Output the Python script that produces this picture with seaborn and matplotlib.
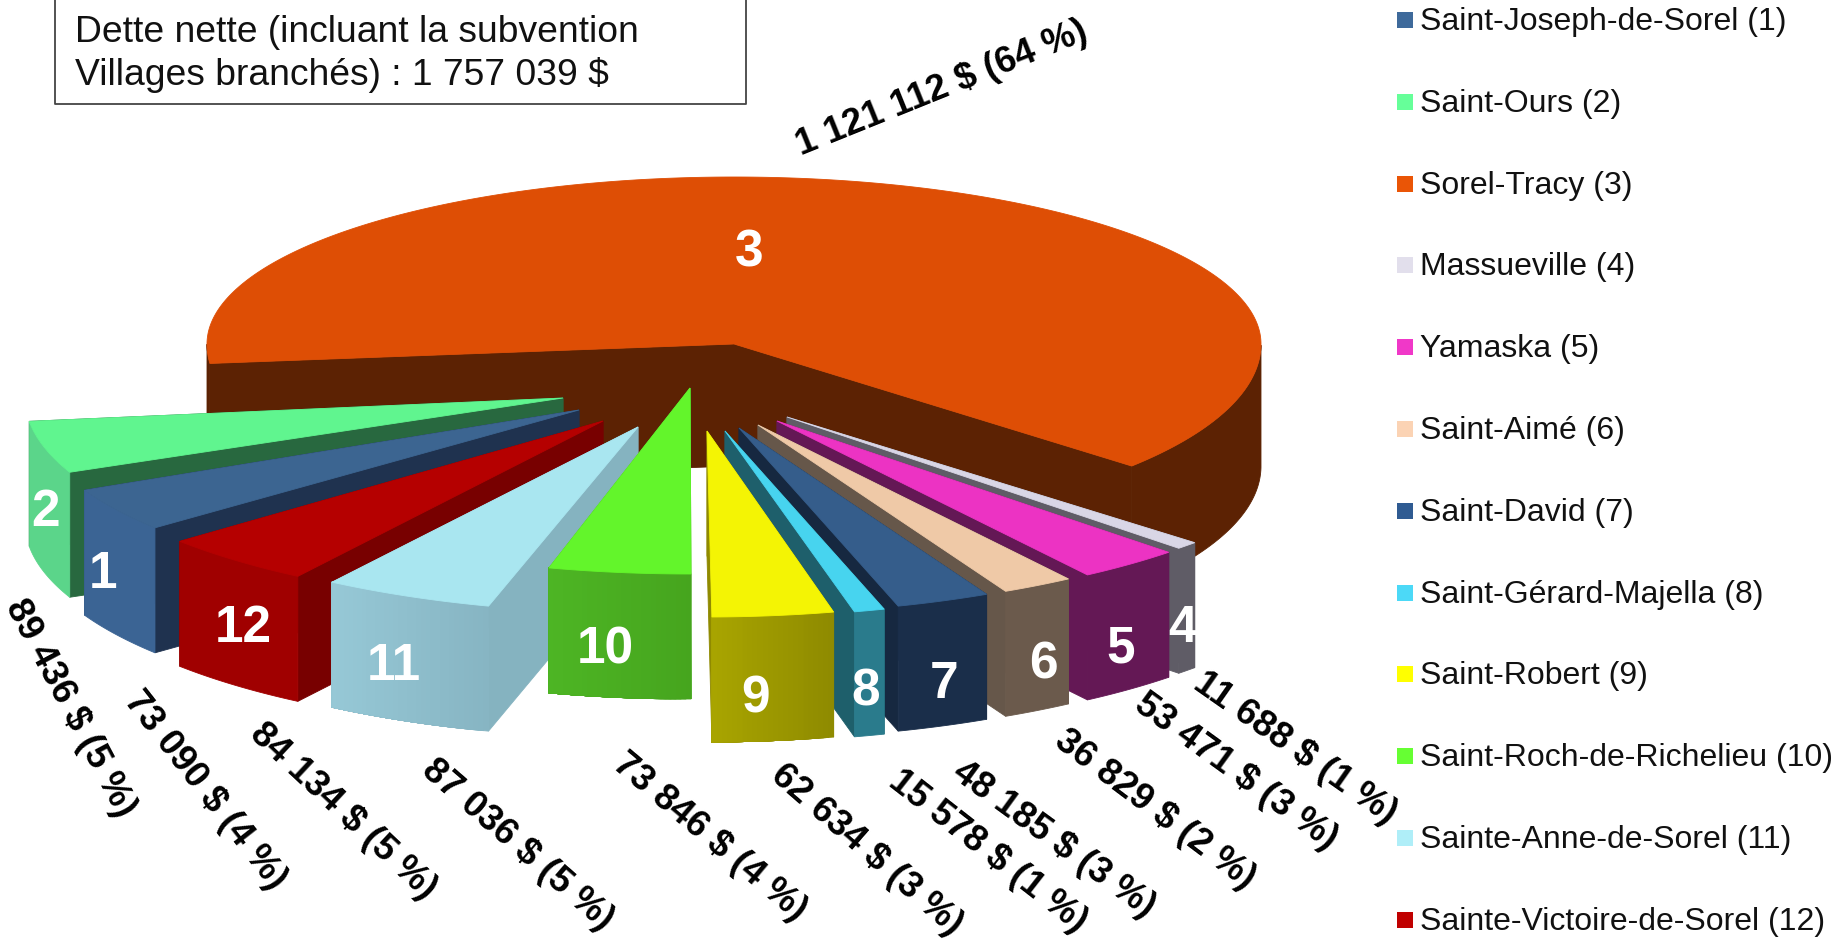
import numpy as np
import pandas as pd
import matplotlib.pyplot as plt
import seaborn as sns
from matplotlib.colors import to_rgb

noms = ['Saint-Joseph-de-Sorel (1)', 'Saint-Ours (2)', 'Sorel-Tracy (3)', 'Massueville (4)',
        'Yamaska (5)', 'Saint-Aimé (6)', 'Saint-David (7)', 'Saint-Gérard-Majella (8)',
        'Saint-Robert (9)', 'Saint-Roch-de-Richelieu (10)', 'Sainte-Anne-de-Sorel (11)',
        'Sainte-Victoire-de-Sorel (12)']
valeurs = [73090, 89436, 1121112, 11688, 53471, 36829, 48185, 15578, 62634, 73846, 87036, 84134]
pourcents = [4, 5, 64, 1, 3, 2, 3, 1, 3, 4, 5, 5]
titre = 'Dette nette (incluant la subvention\nVillages branchés) : 1 757 039 $'

# couleurs
coul_legende = ['#3E6A9B', '#66FF99', '#EA5506', '#E2DFEC', '#F038C8', '#FBD3B4',
                '#2F5B92', '#4CD9F7', '#FFFF00', '#66FF33', '#AFEEF8', '#C00000']
coul_dessus = ['#3C6591', '#60F58F', '#DE4E05', '#D9D6E6', '#EC33C3', '#EFC9A7',
               '#355D8B', '#47D4EF', '#F4F404', '#63F52B', '#A9E6F0', '#B50000']
coul_coupe = ['#1F324F', '#28683F', '#5C2203', '#5F5C66', '#641855', '#66574A',
              '#162840', '#1E5F6B', '#8F8A00', '#48AE20', '#85B3C0', '#780000']
mur_debut = ['#3B6494', '#5BD58A', '#5C2203', '#5F5C66', '#641855', '#6B5A4C',
             '#1A2E4A', '#2A7B8C', '#8F8B00', '#46A51E', '#87B5C3', '#A00000']
mur_fin = ['#3B6494', '#5BD58A', '#5C2203', '#5F5C66', '#641855', '#6B5A4C',
           '#1A2E4A', '#2A7B8C', '#A8A400', '#4DB524', '#96C8D6', '#A00000']

# mise en page (pixels)
centre = (734, 344)
angle_depart = -42.5
rayon_x = [548, 538, 527, 553, 553, 553, 553, 553, 553, 555, 555, 555]
corr_debut = [-1.2, -2, -1.2, 0, 0, 0, 0, 0, -0.3, -0.6, -1.2, -1.1]
corr_fin = [0, 0, 1.5, 0, 0, 0, 0, 0, -0.2, -0.3, -1.2, -0.2]
decal_x = [-155, -171, 0, 53, 43, 24, 5, -9, -27, -44, -96, -131]
decal_y = [66, 54, 0, 73, 77, 81, 84, 87, 87, 44, 83, 77]
ordre = [2, 1, 0, 11, 10, 9, 3, 4, 5, 6, 7, 8]
pos_num = [(103, 574), (45, 512), (749, 253), (1182, 629), (1121, 649), (1043, 665),
           (944, 685), (866, 692), (755, 699), (605, 650), (394, 666), (243, 629)]
pos_etiq = [(205, 790), (70, 708), (942, 88), (1295, 748), (1236, 772), (1155, 810),
            (1054, 840), (988, 851), (867, 850), (710, 837), (518, 845), (343, 811)]
rot_etiq = [-52, -62, 22, -35, -36, -37, -36, -38, -41, -40, -41, -43]

sns.set_theme(style='white')
plt.rcParams['font.family'] = ['Liberation Sans', 'DejaVu Sans']

fig, ax = plt.subplots(figsize=(18.35, 9.39), dpi=100)
fig.subplots_adjust(0, 0, 1, 1)
ax.set_xlim(0, 1835)
ax.set_ylim(939, 0)
sns.despine(ax=ax, left=True, bottom=True)
ax.set_xticks([])
ax.set_yticks([])

total = sum(valeurs)
etendues = np.array(valeurs) / total * 360
fins = angle_depart + sum(etendues[:3]) - np.cumsum(etendues)
debuts = fins + etendues


def poly(xs, ys, c):
    ax.fill(xs, ys, color=c, lw=0.6, zorder=2)


def part(i):
    grand = i == 2
    rx = rayon_x[i]
    h = 122 if grand else 125
    ax0 = centre[0] + decal_x[i]
    ay0 = centre[1] + decal_y[i]
    t = np.radians(np.linspace(debuts[i] + corr_debut[i], fins[i] + corr_fin[i],
                               max(int(etendues[i] * 2), 12)))
    ry = np.where(np.sin(t) > 0, 167, 186) if grand else 186
    xs = ax0 + rx * np.cos(t)
    ys = ay0 - ry * np.sin(t)

    # faces coupees, la plus lointaine d'abord
    faces = sorted([(xs[0], ys[0]), (xs[-1], ys[-1])], key=lambda p: p[1])
    for fx, fy in faces:
        poly([ax0, fx, fx, ax0], [ay0, fy, fy + h, ay0 + h], coul_coupe[i])

    if grand:
        # seul l'avant du mur se voit, a gauche et a droite
        for m in [t >= np.pi, t <= 0]:
            poly(np.r_[xs[m], xs[m][::-1]], np.r_[ys[m], ys[m][::-1] + h], coul_coupe[i])
    else:
        # mur exterieur, degrade peint par dessus pour eviter les joints
        a, b = np.array(to_rgb(mur_debut[i])), np.array(to_rgb(mur_fin[i]))
        etapes = range(len(t) - 1) if mur_debut[i] != mur_fin[i] else [0]
        for k in etapes:
            m = k / max(len(t) - 2, 1)
            poly(np.r_[xs[k:], xs[k:][::-1]], np.r_[ys[k:], ys[k:][::-1] + h], a + (b - a) * m)

    poly(np.r_[ax0, xs], np.r_[ay0, ys], coul_dessus[i])


for i in ordre:
    part(i)

for i, (x, y) in enumerate(pos_num):
    ax.text(x, y, str(i + 1), color='white', fontsize=37, fontweight='bold',
            ha='center', va='center', zorder=5)

for i, (x, y) in enumerate(pos_etiq):
    txt = f'{valeurs[i]:,}'.replace(',', ' ') + f' $ ({pourcents[i]} %)'
    ax.text(x, y, txt, color='black', fontsize=26.5, fontweight='bold', rotation=rot_etiq[i],
            rotation_mode='anchor', ha='center', va='center', zorder=5)

# legende
df_leg = pd.DataFrame({'nom': noms, 'x': 1405, 'y': 20 + 81.8 * np.arange(len(noms))})
sns.scatterplot(data=df_leg, x='x', y='y', hue='nom', palette=coul_legende, marker='s',
                s=130, linewidth=0, legend=False, ax=ax, clip_on=False)
for _, r in df_leg.iterrows():
    ax.text(1420, r['y'] + 2, r['nom'], fontsize=23, color='#111111', va='center', ha='left')
ax.set_xlabel('')
ax.set_ylabel('')

# cadre du titre
ax.plot([55, 55, 746, 746], [-2, 104, 104, -2], color='#444444', lw=1.3, zorder=3)
ax.text(75, 54, titre, fontsize=26.8, color='#111111', va='center', ha='left',
        linespacing=1.27, zorder=4)

plt.savefig('out.png', dpi=100)
